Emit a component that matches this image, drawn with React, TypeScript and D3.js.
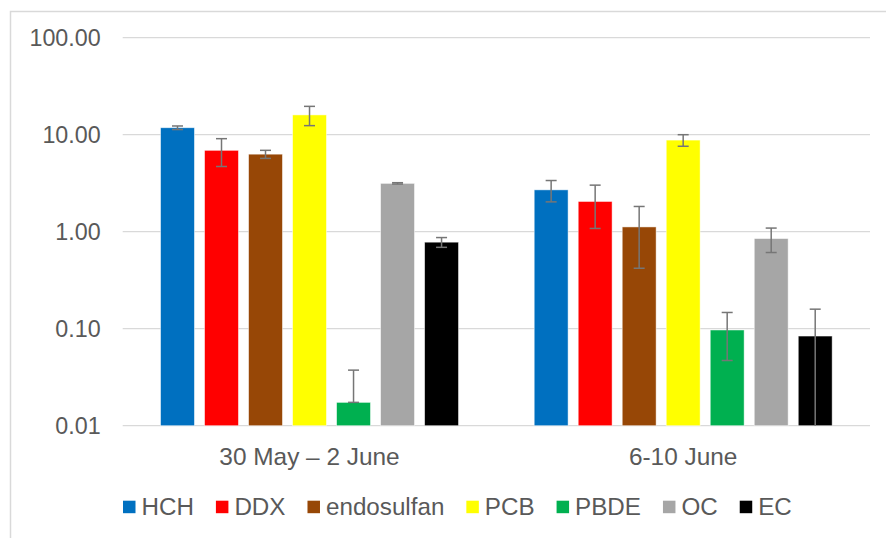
import React, { useEffect, useRef } from "react";
import * as d3 from "d3";

const periods = ["30 May – 2 June", "6-10 June"];
const compounds = ["HCH", "DDX", "endosulfan", "PCB", "PBDE", "OC", "EC"];
const colors = ["#0070C0", "#FF0000", "#974706", "#FFFF00", "#00B050", "#A6A6A6", "#000000"];

// mean values per period, in compound order
const valuesMay = [11.8, 6.9, 6.3, 16.0, 0.0174, 3.15, 0.78];
const valuesJune = [2.7, 2.05, 1.12, 8.8, 0.097, 0.85, 0.084];
// standard deviations
const errorsMay = [0.5, 2.2, 0.6, 3.6, 0.02, 0.05, 0.09];
const errorsJune = [0.67, 0.97, 0.7, 1.2, 0.05, 0.24, 0.075];

const yTicks = [0.01, 0.1, 1, 10, 100];

const App: React.FC = () => {
  const svgRef = useRef<SVGSVGElement>(null);

  useEffect(() => {
    if (!svgRef.current) return;
    const width = 886;
    const height = 538;
    const margin = { top: 37.7, right: 16, bottom: 112.3, left: 122.7 };
    const font = "'Liberation Sans', Arial, sans-serif";
    const textColor = "#595959";

    const root = d3.select(svgRef.current);
    root.selectAll("*").remove();
    root.attr("width", width).attr("height", height);

    // chart frame
    root
      .append("rect")
      .attr("x", 10.5)
      .attr("y", 11.5)
      .attr("width", 1000)
      .attr("height", 1000)
      .attr("fill", "white")
      .attr("stroke", "#d9d9d9")
      .attr("stroke-width", 1.5);

    const innerWidth = width - margin.left - margin.right;
    const innerHeight = height - margin.top - margin.bottom;
    const svg = root.append("g").attr("transform", `translate(${margin.left},${margin.top})`);

    const x0 = d3.scaleBand().domain(periods).range([0, innerWidth]);
    const x1 = d3
      .scaleBand()
      .domain(compounds)
      .range([0, x0.bandwidth()])
      .paddingInner(0.23)
      .paddingOuter(0.86);
    const y = d3.scaleLog().domain([0.01, 100]).range([innerHeight, 0]);

    // gridlines + y labels
    svg
      .selectAll(".grid")
      .data(yTicks)
      .enter()
      .append("line")
      .attr("x1", 0)
      .attr("x2", innerWidth)
      .attr("y1", (d) => y(d))
      .attr("y2", (d) => y(d))
      .attr("stroke", "#d9d9d9")
      .attr("stroke-width", 1.2);

    svg
      .selectAll(".ylab")
      .data(yTicks)
      .enter()
      .append("text")
      .attr("x", -22)
      .attr("y", (d) => y(d))
      .attr("dy", "0.35em")
      .attr("text-anchor", "end")
      .style("font-family", font)
      .style("font-size", "23.3px")
      .attr("fill", textColor)
      .text((d) => d.toFixed(2));

    const rows = [
      { period: periods[0], values: valuesMay, errors: errorsMay },
      { period: periods[1], values: valuesJune, errors: errorsJune },
    ];

    rows.forEach((row) => {
      const g = svg.append("g").attr("transform", `translate(${x0(row.period)},0)`);
      const items = compounds.map((c, i) => ({
        c,
        v: row.values[i],
        e: row.errors[i],
        color: colors[i],
      }));

      g.selectAll("rect")
        .data(items)
        .enter()
        .append("rect")
        .attr("x", (d) => x1(d.c) || 0)
        .attr("y", (d) => y(d.v))
        .attr("width", x1.bandwidth())
        .attr("height", (d) => innerHeight - y(d.v))
        .attr("fill", (d) => d.color)
        .attr("stroke", "rgba(255,255,255,0.6)")
        .attr("stroke-width", 0.8);

      // error bars
      items.forEach((d) => {
        const cx = (x1(d.c) || 0) + x1.bandwidth() / 2;
        const hi = d.v + d.e;
        let lo = d.v - d.e;
        let lowCap = true;
        if (lo <= 0) lo = d.v;
        else if (lo < 0.01) {
          lo = 0.01;
          lowCap = false;
        }
        const eb = g.append("g").attr("stroke", "#767676").attr("stroke-width", 1.5);
        eb.append("line").attr("x1", cx).attr("x2", cx).attr("y1", y(hi)).attr("y2", y(lo));
        eb.append("line").attr("x1", cx - 5.5).attr("x2", cx + 5.5).attr("y1", y(hi)).attr("y2", y(hi));
        if (lowCap)
          eb.append("line").attr("x1", cx - 5.5).attr("x2", cx + 5.5).attr("y1", y(lo)).attr("y2", y(lo));
      });
    });

    // category labels
    svg
      .selectAll(".xlab")
      .data(periods)
      .enter()
      .append("text")
      .attr("x", (d) => (x0(d) || 0) + x0.bandwidth() / 2)
      .attr("y", innerHeight + 31)
      .attr("dy", "0.35em")
      .attr("text-anchor", "middle")
      .style("font-family", font)
      .style("font-size", "24.4px")
      .attr("fill", textColor)
      .text((d) => d);

    // legend
    const legend = root.append("g").attr("transform", `translate(123,507)`);
    let lx = 0;
    compounds.forEach((c, i) => {
      const item = legend.append("g").attr("transform", `translate(${lx},0)`);
      item
        .append("rect")
        .attr("x", 0)
        .attr("y", -6.3)
        .attr("width", 12.5)
        .attr("height", 12.5)
        .attr("fill", colors[i]);
      const t = item
        .append("text")
        .attr("x", 18.5)
        .attr("y", 0)
        .attr("dy", "0.35em")
        .style("font-family", font)
        .style("font-size", "24.2px")
        .attr("fill", textColor)
        .text(c);
      const w = (t.node() as SVGTextElement).getComputedTextLength();
      lx += 18.5 + w + 22;
    });
  }, []);

  return (
    <svg
      ref={svgRef}
      style={{ position: "absolute", left: 0, top: 0, display: "block" }}
    ></svg>
  );
};

export default App;
